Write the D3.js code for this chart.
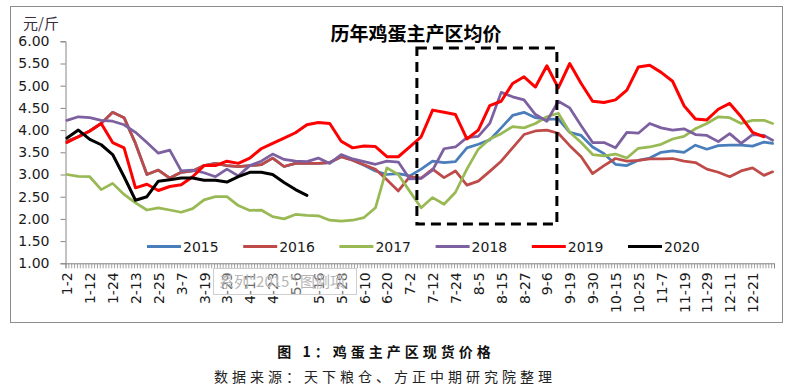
<!DOCTYPE html>
<html>
<head>
<meta charset="utf-8">
<script src="https://cdn.jsdelivr.net/npm/d3@7"></script>
<style>
  html, body { margin: 0; padding: 0; background: #fff; }
  svg { display: block; }
</style>
</head>
<body>
<svg id="chart" width="794" height="389"></svg>
<script>
// ---------------- DATA ----------------
const nDays = 248;                       // trading-day categories on the x axis
const tickLabels = ["1-2","1-12","1-24","2-13","2-25","3-7","3-19","3-29","4-11","4-23",
  "5-6","5-16","5-28","6-10","6-20","7-2","7-12","7-24","8-5","8-15","8-27","9-6",
  "9-19","9-30","10-15","10-25","11-7","11-19","11-29","12-11","12-21"];
const labelEvery = 8;                    // a label on every 8th category
const yTicks = [1.0, 1.5, 2.0, 2.5, 3.0, 3.5, 4.0, 4.5, 5.0, 5.5, 6.0];
const seriesNames = ["2015", "2016", "2017", "2018", "2019", "2020"];
// values read every 4th category (last sample = last category)
const sampleDays = d3.range(0, nDays, 4).concat([nDays - 1]);

const v2015 = [3.75,3.85,3.98,4.15,4.40,4.28,3.70,3.00,3.10,2.92,3.05,3.08,3.20,3.25,3.20,3.18,
  3.20,3.22,3.37,3.18,3.25,3.25,3.25,3.27,3.40,3.32,
  3.21,3.08,3.00,3.02,2.97,3.12,3.30,3.27,3.29,3.60,3.68,3.78,4.05,4.33,4.40,4.28,4.24,4.25,
  3.95,3.88,3.62,3.47,3.23,3.20,3.32,3.37,3.50,3.53,3.50,3.66,3.57,3.65,3.66,3.66,3.64,3.73,3.70];
const v2016 = [3.75,3.85,3.98,4.15,4.40,4.28,3.70,3.00,3.10,2.92,3.05,3.08,3.20,3.25,3.20,3.18,
  3.20,3.22,3.37,3.18,3.25,3.25,3.25,3.27,3.40,3.32,
  3.22,3.12,2.88,2.63,2.95,2.92,3.12,2.93,3.08,2.76,2.85,3.07,3.30,3.60,3.90,3.98,4.00,3.93,
  3.65,3.40,3.02,3.20,3.36,3.30,3.32,3.35,3.35,3.36,3.30,3.27,3.12,3.05,2.95,3.08,3.15,2.98,3.06];
const v2017 = [3.00,2.96,2.95,2.66,2.80,2.55,2.36,2.20,2.25,2.20,2.15,2.23,2.43,2.50,2.50,2.30,
  2.19,2.20,2.05,2.00,2.10,2.08,2.07,1.97,1.95,1.97,
  2.03,2.25,3.15,3.00,2.62,2.25,2.48,2.33,2.60,3.12,3.57,3.80,3.92,4.08,4.05,4.15,4.30,4.38,
  3.95,3.72,3.45,3.42,3.46,3.37,3.59,3.62,3.68,3.80,3.86,4.03,4.15,4.30,4.28,4.15,4.22,4.22,4.15];
const v2018 = [4.22,4.30,4.28,4.22,4.20,4.12,3.95,3.72,3.48,3.55,3.08,3.10,3.04,2.95,3.12,2.97,
  3.20,3.30,3.46,3.34,3.30,3.29,3.37,3.25,3.45,3.35,
  3.29,3.23,3.30,3.28,2.90,2.91,3.10,3.58,3.62,3.83,3.86,4.15,4.85,4.75,4.68,4.35,4.20,4.65,
  4.50,4.10,3.72,3.72,3.60,3.95,3.93,4.15,4.05,4.00,4.03,3.90,3.88,3.74,3.92,3.70,3.90,3.88,3.77];
const v2019 = [3.72,3.85,3.98,4.15,3.72,3.60,2.70,2.78,2.64,2.73,2.77,2.95,3.20,3.20,3.30,3.25,
  3.37,3.58,3.70,3.82,3.94,4.12,4.17,4.15,3.75,3.60,
  3.64,3.63,3.40,3.40,3.62,3.85,4.45,4.40,4.35,3.80,4.00,4.55,4.65,5.05,5.20,4.97,5.45,4.95,
  5.50,5.05,4.65,4.62,4.68,4.90,5.42,5.46,5.30,5.10,4.55,4.25,4.23,4.47,4.60,4.30,3.95,3.85,null];
const v2020 = [3.82,4.00,3.79,3.67,3.45,2.95,2.42,2.50,2.85,2.88,2.92,2.92,2.87,2.87,2.83,2.95,
  3.05,3.05,3.00,2.82,2.66,2.53,
  null,null,null,null,null,null,null,null,null,null,null,null,null,null,null,null,null,null,null,null,
  null,null,null,null,null,null,null,null,null,null,null,null,null,null,null,null,null,null,null,null,null];
const seriesValues = [v2015, v2016, v2017, v2018, v2019, v2020];
const seriesColors = ["#4A7EBB", "#BE4B48", "#98B954", "#7D60A0", "#FF0000", "#000000"];

// highlighted period (dashed rectangle), in category / value units
const boxFrom = 122.5, boxTo = 171.5, boxTop = 5.85, boxBottom = 1.885;

// ---------------- CHART ----------------
const svg = d3.select("#chart");
const W = 794, H = 389;
const plot = { left: 65.5, right: 774, top: 41.3, bottom: 263.3 };

svg.append("rect").attr("x", 0).attr("y", 0).attr("width", W).attr("height", H).attr("fill", "#fff");
svg.append("rect").attr("x", 10.5).attr("y", 6.5).attr("width", 772).attr("height", 316)
  .attr("fill", "none").attr("stroke", "#8c8c8c").attr("stroke-width", 1);

const x = d3.scaleLinear().domain([-0.5, nDays - 0.5]).range([plot.left, plot.right]);
const y = d3.scaleLinear().domain([1, 6]).range([plot.bottom, plot.top]);

const tickFont = "'DejaVu Sans', Verdana, sans-serif";

// y axis
const yAxis = svg.append("g").attr("transform", `translate(${plot.left},0)`)
  .call(d3.axisLeft(y).tickValues(yTicks).tickFormat(d3.format(".2f")).tickSize(5).tickPadding(11));
yAxis.select(".domain").attr("stroke", "#868686");
yAxis.selectAll(".tick line").attr("stroke", "#868686");
yAxis.selectAll("text").attr("font-family", tickFont).attr("font-size", 14).attr("fill", "#1a1a1a");

// x axis: minor ticks on every category boundary
const xMinor = svg.append("g").attr("transform", `translate(0,${plot.bottom})`)
  .call(d3.axisBottom(x).tickValues(d3.range(-0.5, nDays, 1)).tickFormat("").tickSize(5));
xMinor.select(".domain").attr("stroke", "#868686");
xMinor.selectAll(".tick line").attr("stroke", "#8a8a8a").attr("stroke-width", 0.8);

// x axis labels
const labelIdx = tickLabels.map((_, i) => i * labelEvery);
const xLab = svg.append("g").attr("transform", `translate(0,${plot.bottom})`)
  .call(d3.axisBottom(x).tickValues(labelIdx).tickFormat((d, i) => tickLabels[i]).tickSize(0));
xLab.select(".domain").remove();
xLab.selectAll("text")
  .attr("font-family", tickFont).attr("font-size", 14).attr("fill", "#1a1a1a")
  .attr("transform", "rotate(-90)")
  .attr("text-anchor", "end")
  .attr("x", -9).attr("y", 0).attr("dy", "0.36em");

// lines
const line = d3.line()
  .defined(d => d.v != null)
  .x(d => x(d.day))
  .y(d => y(d.v));

seriesNames.forEach((name, s) => {
  const pts = sampleDays.map((day, k) => ({ day, v: seriesValues[s][k] }));
  svg.append("path")
    .datum(pts)
    .attr("d", line)
    .attr("fill", "none")
    .attr("stroke", seriesColors[s])
    .attr("stroke-width", name === "2019" || name === "2020" ? 3 : 2.75)
    .attr("stroke-linejoin", "round")
    .attr("stroke-linecap", "round");
});

// dashed highlight box
svg.append("rect")
  .attr("x", x(boxFrom)).attr("y", y(boxTop))
  .attr("width", x(boxTo) - x(boxFrom)).attr("height", y(boxBottom) - y(boxTop))
  .attr("fill", "none").attr("stroke", "#000").attr("stroke-width", 3)
  .attr("stroke-dasharray", "10,6");

// legend
const legend = svg.append("g").attr("transform", "translate(147,246.5)");
seriesNames.forEach((name, s) => {
  const g = legend.append("g").attr("transform", `translate(${s * 96.2},0)`);
  g.append("line").attr("x1", 0).attr("x2", 34).attr("y1", 0).attr("y2", 0)
    .attr("stroke", seriesColors[s]).attr("stroke-width", 3.2);
  g.append("text").attr("x", 36).attr("y", 0).attr("dy", "0.36em")
    .attr("font-family", tickFont).attr("font-size", 14).attr("fill", "#1a1a1a").text(name);
});

// title and unit
svg.append("text").attr("x", 416).attr("y", 41).attr("text-anchor", "middle")
  .attr("font-family", "'Noto Sans CJK SC', sans-serif").attr("font-weight", "bold")
  .attr("font-size", 19).attr("fill", "#000").text("历年鸡蛋主产区均价");
svg.append("text").attr("x", 23).attr("y", 29)
  .attr("font-family", "'Noto Sans CJK SC', sans-serif")
  .attr("font-size", 15).attr("fill", "#3a3040").text("元/斤");

// hover tooltip left in the original screenshot
svg.append("rect").attr("x", 213.5).attr("y", 268.5).attr("width", 143).attr("height", 26)
  .attr("fill", "#fff").attr("fill-opacity", 0.35).attr("stroke", "#cfcfcf");
svg.append("text").attr("x", 219).attr("y", 287)
  .attr("font-family", "'Noto Sans CJK SC', sans-serif").attr("font-size", 15)
  .attr("fill", "#b5b5b5").text("系列\"2015\" 图例项");

// caption
svg.append("text").attr("x", 386).attr("y", 357).attr("text-anchor", "middle")
  .attr("font-family", "'Noto Sans CJK SC', sans-serif").attr("font-weight", "bold")
  .attr("font-size", 14).attr("letter-spacing", 4).attr("fill", "#111")
  .text("图 1：鸡蛋主产区现货价格");
svg.append("text").attr("x", 385).attr("y", 382).attr("text-anchor", "middle")
  .attr("font-family", "'Noto Sans CJK SC', sans-serif")
  .attr("font-size", 14).attr("letter-spacing", 4).attr("fill", "#222")
  .text("数据来源：天下粮仓、方正中期研究院整理");
</script>
</body>
</html>
